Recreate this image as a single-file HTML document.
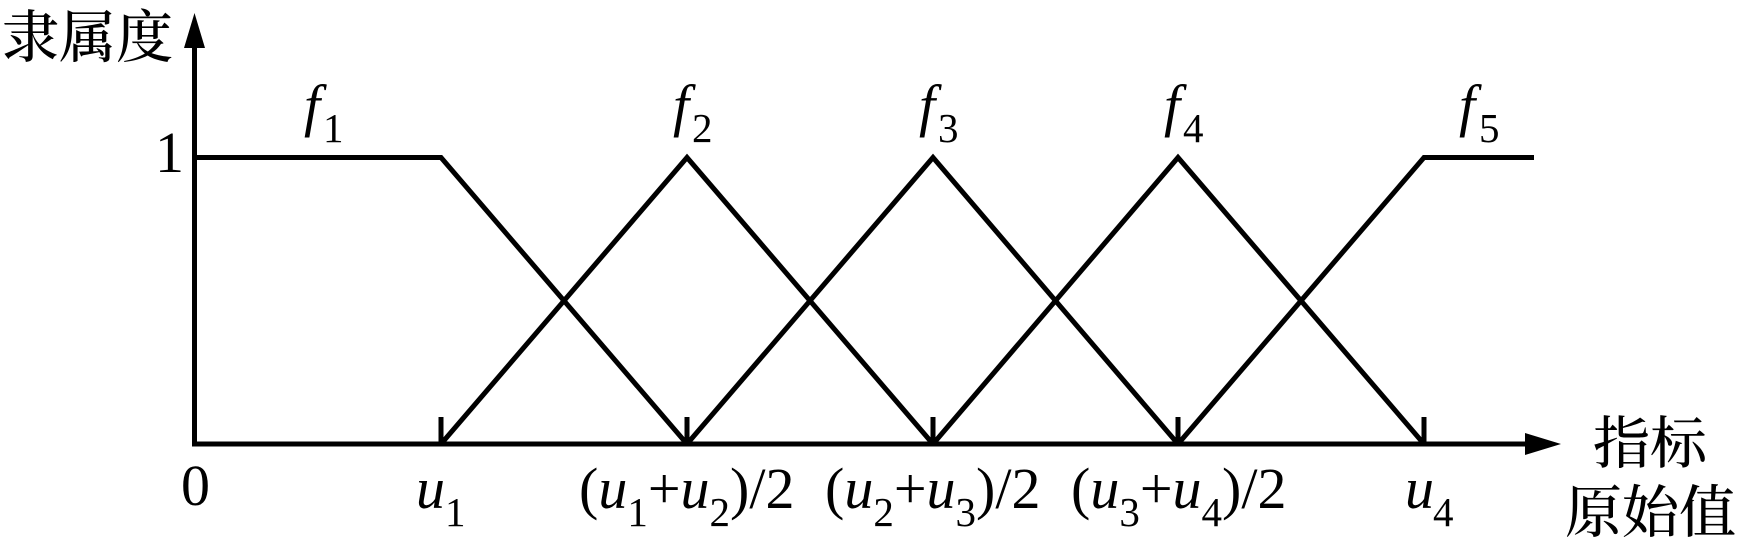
<!DOCTYPE html>
<html><head><meta charset="utf-8">
<style>
html,body{margin:0;padding:0;background:#fff;width:1737px;height:544px;overflow:hidden}
svg{display:block}
text{fill:#000;font-family:"Liberation Serif",serif;font-size:58px}
.c{font-family:"Noto Serif CJK SC","Liberation Serif",serif;font-size:57px;font-weight:500}
.i{font-style:italic}
.s{font-size:41px}
</style></head><body>
<svg width="1737" height="544" viewBox="0 0 1737 544" xmlns="http://www.w3.org/2000/svg">
<g fill="none" stroke="#000" stroke-width="5" stroke-linejoin="miter">
<path d="M194.500 446.500V40"/>
<path d="M192 444H1530"/>
<polyline points="195,157.500 441,157.500 687,444"/>
<polyline points="441,444 687,157.500 933,444"/>
<polyline points="687,444 933,157.500 1178,444"/>
<polyline points="933,444 1178,157.500 1424,444"/>
<polyline points="1178,444 1424,157.500 1534,157.500"/>
<path d="M441 417V444M687 417V444M933 417V444M1178 417V444M1424 417V444"/>
</g>
<polygon points="194.500,13 205,48 184,48" fill="#000"/>
<polygon points="1561,444 1525,433 1525,455" fill="#000"/>
<text class="c" x="2" y="57">隶属度</text>
<text x="155" y="172">1</text>
<text x="181" y="505">0</text>
<text class="i" x="304" y="125">f</text><text class="s" x="323" y="142">1</text>
<text class="i" x="673" y="125">f</text><text class="s" x="692" y="142">2</text>
<text class="i" x="919" y="125">f</text><text class="s" x="938" y="142">3</text>
<text class="i" x="1164" y="125">f</text><text class="s" x="1183" y="142">4</text>
<text class="i" x="1459" y="125">f</text><text class="s" x="1479" y="142">5</text>
<text class="i" x="416" y="508">u</text><text class="s" x="445" y="526">1</text>
<text x="579" y="508">(<tspan class="i">u</tspan><tspan class="s" dy="18">1</tspan><tspan dy="-18">+</tspan><tspan class="i">u</tspan><tspan class="s" dy="18">2</tspan><tspan dy="-18">)/2</tspan></text>
<text x="825" y="508">(<tspan class="i">u</tspan><tspan class="s" dy="18">2</tspan><tspan dy="-18">+</tspan><tspan class="i">u</tspan><tspan class="s" dy="18">3</tspan><tspan dy="-18">)/2</tspan></text>
<text x="1071" y="508">(<tspan class="i">u</tspan><tspan class="s" dy="18">3</tspan><tspan dy="-18">+</tspan><tspan class="i">u</tspan><tspan class="s" dy="18">4</tspan><tspan dy="-18">)/2</tspan></text>
<text class="i" x="1405" y="508">u</text><text class="s" x="1433" y="526">4</text>
<text class="c" x="1593" y="463">指标</text>
<text class="c" x="1565" y="532">原始值</text>
</svg>
</body></html>
